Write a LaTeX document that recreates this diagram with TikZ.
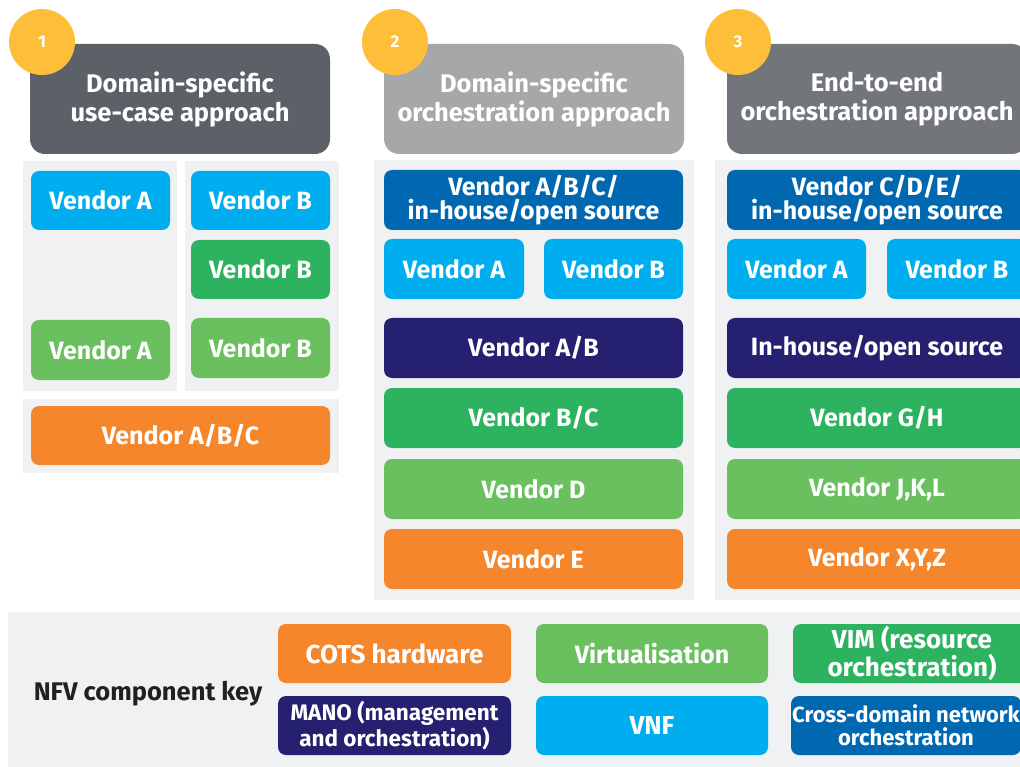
\documentclass[tikz,border=0pt]{standalone}
\usepackage{fontspec}
\setmainfont{Fira Sans}
\definecolor{panel}{HTML}{F0F1F3}
\definecolor{hdrA}{HTML}{5C6067}
\definecolor{hdrB}{HTML}{A6A7A9}
\definecolor{hdrC}{HTML}{727579}
\definecolor{badge}{HTML}{FDBF3A}
\definecolor{vnf}{HTML}{00AEEF}
\definecolor{vim}{HTML}{2DB35F}
\definecolor{virt}{HTML}{6ABF5E}
\definecolor{cots}{HTML}{F5862C}
\definecolor{mano}{HTML}{25206F}
\definecolor{xdom}{HTML}{0067B1}
\definecolor{keytext}{HTML}{231F20}
\tikzset{
  tilebox/.style={rectangle, rounded corners=8pt, inner sep=0pt, text=white,
    align=center, font=\bfseries\fontsize{25}{23}\selectfont},
  smalltext/.style={font=\bfseries\fontsize{22.5}{23.5}\selectfont},
  headbox/.style={rectangle, rounded corners=15pt, inner sep=0pt, text=white,
    align=center, font=\bfseries\fontsize{25.5}{29}\selectfont},
  badgedot/.style={circle, fill=badge, minimum size=66pt, inner sep=0pt,
    text=white, font=\bfseries\fontsize{17}{17}\selectfont},
  panelfill/.style={fill=panel}
}
% tile: name, colour, x1, y1, x2, y2, text (optional extra style first)
\newcommand\tile[8][]{\node[tilebox, fill=#3, minimum width={#6-#4}, minimum height={#7-#5}, #1]
  (#2) at ({(#4+#6)/2},{(#5+#7)/2}) {#8};}
\newcommand\headtile[7]{\node[headbox, fill=#2, minimum width={#5-#3}, minimum height={#6-#4}]
  (#1) at ({(#3+#5)/2},{(#4+#6)/2}) {#7};}
\begin{document}
\begin{tikzpicture}[x=1pt, y=-1pt]
\useasboundingbox (0,0) rectangle (1020,767);
\clip (0,0) rectangle (1020,767);

% grey backing panels
\fill[panelfill] (23,161) rectangle (177,391);
\fill[panelfill] (185,161) rectangle (339,391);
\fill[panelfill] (23,399) rectangle (339,473);
\fill[panelfill] (374,160) rectangle (694,600);
\fill[panelfill] (715,160) rectangle (1040,600);
\fill[panelfill] (8,612) rectangle (1040,767);

% column headers
\headtile{h1}{hdrA}{30}{44}{330}{154}{Domain-specific\\use-case approach}
\headtile{h2}{hdrB}{384}{44}{684}{154}{Domain-specific\\orchestration approach}
\headtile{h3}{hdrC}{727}{44}{1027}{154}{End-to-end\\orchestration approach}
\node[badgedot] (n1) at (42,42) {1};
\node[badgedot] (n2) at (395,42) {2};
\node[badgedot] (n3) at (738,42) {3};

% column 1: domain-specific use case
\tile{a1}{vnf}{31}{171}{170}{230}{Vendor A}
\tile{a2}{vnf}{191}{171}{330}{230}{Vendor B}
\tile{a3}{vim}{191}{240}{330}{299}{Vendor B}
\tile{a4}{virt}{31}{320}{170}{380}{Vendor A}
\tile{a5}{virt}{191}{318}{330}{378}{Vendor B}
\tile{a6}{cots}{31}{406}{330}{465}{Vendor A/B/C}

% column 2: domain-specific orchestration
\tile{b1}{xdom}{384}{170}{683}{230}{Vendor A/B/C/\\in-house/open source}
\tile{b2}{vnf}{384}{239}{524}{299}{Vendor A}
\tile{b3}{vnf}{544}{239}{683}{299}{Vendor B}
\tile{b4}{mano}{384}{318}{683}{378}{Vendor A/B}
\tile{b5}{vim}{384}{388}{683}{448}{Vendor B/C}
\tile{b6}{virt}{384}{459}{683}{519}{Vendor D}
\tile{b7}{cots}{384}{529}{683}{589}{Vendor E}

% column 3: end-to-end orchestration
\tile{c1}{xdom}{727}{170}{1027}{230}{Vendor C/D/E/\\in-house/open source}
\tile{c2}{vnf}{727}{239}{866}{299}{Vendor A}
\tile{c3}{vnf}{887}{239}{1027}{299}{Vendor B}
\tile{c4}{mano}{727}{318}{1027}{378}{In-house/open source}
\tile{c5}{vim}{727}{388}{1027}{448}{Vendor G/H}
\tile{c6}{virt}{727}{459}{1027}{519}{Vendor J,K,L}
\tile{c7}{cots}{727}{529}{1027}{589}{Vendor X,Y,Z}

% component key
\node[text=keytext, font=\bfseries\fontsize{25.5}{25.5}\selectfont] (keylabel) at (148,694) {NFV component key};
\tile[font=\bfseries\fontsize{26}{26}\selectfont]{k1}{cots}{278}{624}{511}{683}{COTS hardware}
\tile[smalltext]{k2}{mano}{278}{696}{511}{755}{MANO (management\\and orchestration)}
\tile{k3}{virt}{536}{624}{768}{683}{Virtualisation}
\tile[font=\bfseries\fontsize{26}{26}\selectfont]{k4}{vnf}{536}{696}{768}{755}{VNF}
\tile[font=\bfseries\fontsize{26}{23}\selectfont]{k5}{vim}{793}{624}{1031}{683}{VIM (resource\\orchestration)}
\tile[font=\bfseries\fontsize{22}{23}\selectfont]{k6}{xdom}{791}{696}{1021}{755}{Cross-domain network\\orchestration}
\end{tikzpicture}
\end{document}
